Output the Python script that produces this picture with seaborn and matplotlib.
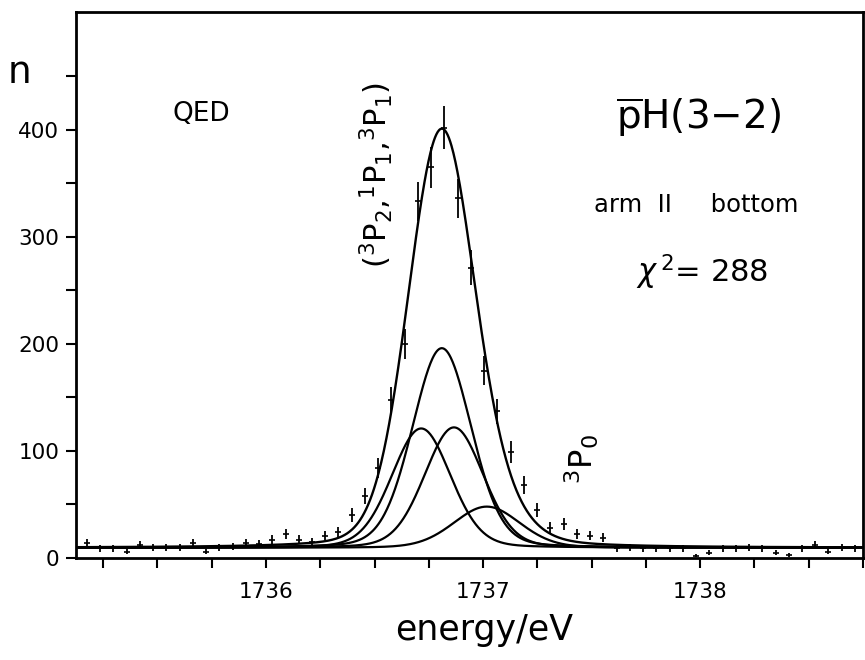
import numpy as np
import matplotlib
matplotlib.use('Agg')
import matplotlib.pyplot as plt
from matplotlib.ticker import MultipleLocator, FixedLocator
import seaborn as sns

# Measured spectrum: bin centre (eV) and counts per bin
energy = [1735.175, 1735.236, 1735.297, 1735.358, 1735.419, 1735.480, 1735.541,
          1735.602, 1735.663, 1735.724, 1735.785, 1735.846, 1735.907, 1735.968,
          1736.029, 1736.090, 1736.151, 1736.212, 1736.273, 1736.334, 1736.395,
          1736.456, 1736.517, 1736.578, 1736.639, 1736.700, 1736.761, 1736.822,
          1736.883, 1736.944, 1737.005, 1737.066, 1737.127, 1737.188, 1737.249,
          1737.310, 1737.371, 1737.432, 1737.493, 1737.554, 1737.615, 1737.676,
          1737.737, 1737.798, 1737.859, 1737.920, 1737.981, 1738.042, 1738.103,
          1738.164, 1738.225, 1738.286, 1738.347, 1738.408, 1738.469, 1738.530,
          1738.591, 1738.652, 1738.713]
counts = [14, 9, 9, 6, 12, 10, 10, 10, 14, 6, 10, 11, 14, 13, 17, 22, 17, 15, 21,
          24, 40, 58, 84, 148, 200, 333, 365, 402, 336, 271, 175, 137, 99, 68, 45,
          28, 32, 22, 21, 19, 9, 10, 9, 9, 9, 9, 2, 5, 9, 9, 10, 9, 5, 3, 9, 12, 6,
          10, 9]

# Fit components (3P2, 1P1, 3P1) and 3P0, pseudo-Voigt line shapes
comp_centre = [1736.810, 1736.715, 1736.866, 1737.017]
comp_height = [186.5, 111.5, 112.5, 38.5]
comp_hwhm = [0.16, 0.16, 0.16, 0.18]
lorentz_frac = 0.15
background = 9.5

sns.set_style("ticks")
plt.rcParams['font.family'] = 'DejaVu Sans'
plt.rcParams['mathtext.fontset'] = 'dejavusans'
for key in ['text.color', 'axes.labelcolor', 'xtick.color', 'ytick.color',
            'axes.edgecolor']:
    plt.rcParams[key] = 'black'

fig = plt.figure(figsize=(8.65, 6.6), dpi=100)
ax = fig.add_axes([76 / 865, 102 / 660, 787 / 865, 546 / 660])


def line_shape(x, c, h, w):
    u = ((x - c) / w) ** 2
    return h * (lorentz_frac / (1 + u) + (1 - lorentz_frac) * np.exp(-np.log(2) * u))


grid = np.linspace(1735.125, 1738.75, 1200)
total = np.full_like(grid, background)
for c, h, w in zip(comp_centre, comp_height, comp_hwhm):
    comp = line_shape(grid, c, h, w)
    total += comp
    sns.lineplot(x=grid, y=background + comp, color='black', lw=1.6, ax=ax)
sns.lineplot(x=grid, y=total, color='black', lw=1.7, ax=ax)

# data with Poisson errors
err = np.sqrt(np.array(counts, dtype=float))
ax.errorbar(energy, counts, yerr=err, fmt='_', color='black', ms=4, mew=1.2,
            elinewidth=1.3, capsize=0)

ax.set_xlim(1735.125, 1738.75)
ax.set_ylim(0, 510)
ax.xaxis.set_major_locator(FixedLocator([1736, 1737, 1738]))
ax.xaxis.set_minor_locator(MultipleLocator(0.25))
ax.yaxis.set_major_locator(FixedLocator([0, 100, 200, 300, 400]))
ax.yaxis.set_minor_locator(FixedLocator([50, 150, 250, 350, 450]))
ax.tick_params(which='both', direction='out', length=7, width=1.5, color='black')
ax.tick_params(axis='x', pad=10, labelsize=15.5)
ax.tick_params(axis='y', pad=5, labelsize=15.5)
for sp in ax.spines.values():
    sp.set_linewidth(2)

ax.set_xlabel('energy/eV', fontsize=25)
ax.xaxis.set_label_coords(0.519, -0.132)
ax.xaxis.label.set_va('center')
ax.set_ylabel('n', fontsize=27, rotation=0)
ax.yaxis.set_label_coords(-0.072, 0.888)
ax.yaxis.label.set_va('center')

ax.text(1735.703, 415, 'QED', fontsize=19, ha='center', va='center')
ax.text(1737.99, 412, r'$\overline{\mathrm{p}}$H(3−2)', fontsize=28,
        ha='center', va='center')
ax.text(1737.98, 330, 'arm  II     bottom', fontsize=17.5, ha='center', va='center')
ax.text(1738.01, 267, r'$\chi^{\,2}$= 288', fontsize=22, ha='center', va='center')
ax.text(1736.51, 358,
        r'$(^{3}\mathrm{P}_{2}{,}^{1}\mathrm{P}_{1}{,}^{3}\mathrm{P}_{1})$',
        fontsize=22, rotation=90, ha='center', va='center')
ax.text(1737.455, 92, r'$^{3}\mathrm{P}_{0}$', fontsize=23, rotation=90,
        ha='center', va='center')

fig.savefig('out.png', dpi=100)
